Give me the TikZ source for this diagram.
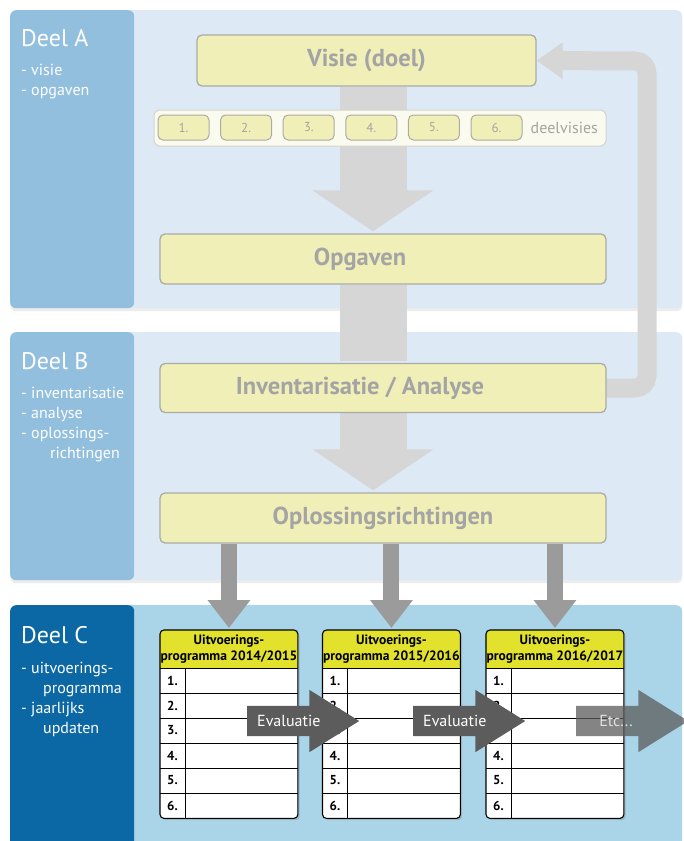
\documentclass[tikz,border=0pt]{standalone}
\usepackage{fontspec}
\setmainfont{PT Sans}
\usetikzlibrary{positioning,calc,arrows.meta,shapes.arrows,shadows}

\definecolor{vlakAB}{HTML}{DDEAF5}
\definecolor{tabAB}{HTML}{93BFDF}
\definecolor{vlakC}{HTML}{AAD4E7}
\definecolor{tabC}{HTML}{0B68A4}
\definecolor{lichtgrijs}{HTML}{D6D6D6}
\definecolor{vakgeel}{HTML}{F1EFB8}
\definecolor{vakrand}{HTML}{ABABA5}
\definecolor{vaktekst}{HTML}{A4A4A4}
\definecolor{balkgeel}{HTML}{FBFAEF}
\definecolor{balkrand}{HTML}{D4D4CC}
\definecolor{donkergrijs}{HTML}{9B9B9B}
\definecolor{evalgrijs}{HTML}{5C5C5C}
\definecolor{kopgeel}{HTML}{E2E12B}

\pgfdeclarelayer{panelen}
\pgfdeclarelayer{pijlen}
\pgfsetlayers{panelen,pijlen,main}

\tikzset{
  vlak/.style={anchor=north west, inner sep=0pt, rounded corners=6pt},
  vlakschaduw/.style={drop shadow={shadow xshift=0pt,shadow yshift=-3pt,opacity=.15}},
  deelkop/.style={text=white, inner sep=0pt, font=\fontsize{24}{28}\selectfont},
  deellijst/.style={text=white, inner sep=0pt, align=left, font=\fontsize{16}{20}\selectfont},
  vak/.style={draw=vakrand, fill=vakgeel, line width=1.3pt, rounded corners=5pt,
    text=vaktekst, font=\fontsize{24.5}{28}\selectfont\bfseries},
  dvbalk/.style={draw=balkrand, fill=balkgeel, line width=1pt, rounded corners=6pt},
  dvvak/.style={draw=vakrand, fill=vakgeel, line width=1pt, rounded corners=5pt,
    minimum width=51pt, minimum height=25pt, text=vaktekst, font=\fontsize{13}{15}\selectfont},
  dvtekst/.style={text=vaktekst, inner sep=0pt, font=\fontsize{16}{18}\selectfont},
  grootpijl/.style={draw=lichtgrijs, line width=67pt, -{Triangle[length=41pt,width=119pt]}, shorten >=2pt},
  terugpijl/.style={draw=lichtgrijs, line width=19pt, rounded corners=12pt, -{Triangle[length=26pt,width=35pt]}},
  donkerpijl/.style={draw=donkergrijs, line width=16pt, -{Triangle[length=28pt,width=41pt]}, shorten >=2pt},
  prog/.style={fill=white, rounded corners=4pt, minimum width=137.5pt, minimum height=188pt,
    inner sep=0pt, anchor=north west, drop shadow={shadow xshift=2pt,shadow yshift=-2pt,opacity=.35}},
  progrand/.style={draw=black, line width=1.1pt, rounded corners=4pt},
  progkop/.style={align=center, inner sep=0pt, font=\fontsize{13.5}{15.5}\selectfont\bfseries},
  rij/.style={draw=black, line width=0.9pt},
  rijnr/.style={inner sep=0pt, font=\fontsize{13}{15}\selectfont\bfseries},
  evalpijl/.style={single arrow, single arrow head extend=16pt, single arrow tip angle=64,
    minimum height=112pt, inner xsep=0pt, inner ysep=15pt, fill=evalgrijs, anchor=tail},
  evaltekst/.style={text=white, inner sep=0pt, font=\fontsize{16}{18}\selectfont},
}

\begin{document}
\begin{tikzpicture}[x=1pt,y=-1pt,>=Triangle]

\useasboundingbox (0,0) rectangle (684,841);

% Deel A, B en C
\begin{pgfonlayer}{panelen}
\fill[white] (0,0) rectangle (684,841);
\node[vlak, vlakschaduw, fill=vlakAB, minimum width=672pt, minimum height=298pt] (vlakA) at (10,10) {};
\node[vlak, fill=tabAB, minimum width=124pt, minimum height=298pt] (tabA) at (10,10) {};
\node[vlak, vlakschaduw, fill=vlakAB, minimum width=672pt, minimum height=248pt] (vlakB) at (10,332) {};
\node[vlak, fill=tabAB, minimum width=124pt, minimum height=248pt] (tabB) at (10,332) {};
\node[vlak, fill=vlakC, minimum width=672pt, minimum height=260pt] (vlakC) at (10,605) {};
\node[vlak, fill=tabC, minimum width=124pt, minimum height=260pt] (tabC) at (10,605) {};
\end{pgfonlayer}

\node[deelkop, anchor=base west] (kopA) at (21,46) {Deel A};
\node[deellijst, anchor=north west] (lijstA) at (21,64) {- visie\\- opgaven};
\node[deelkop, anchor=base west] (kopB) at (21,369) {Deel B};
\node[deellijst, anchor=north west] (lijstB) at (21,387) {- inventarisatie\\- analyse\\- oplossings-\\\hspace*{29pt}richtingen};
\node[deelkop, anchor=base west] (kopC) at (21,643) {Deel C};
\node[deellijst, anchor=north west] (lijstC) at (21,662) {- uitvoerings-\\\hspace*{22pt}programma\\- jaarlijks\\\hspace*{22pt}updaten};

\node[vak, minimum width=339pt, minimum height=51pt] (visie) at (366.5,60.5) {Visie (doel)};
\node[vak, minimum width=446pt, minimum height=50pt] (opgaven) at (383,259) {Opgaven\hspace*{46pt}};
\node[vak, minimum width=446pt, minimum height=49pt] (inv) at (383,388) {Inventarisatie / Analyse\hspace*{46pt}};
\node[vak, minimum width=446pt, minimum height=50pt] (oplos) at (383,518) {Oplossingsrichtingen};

% deelvisies
\node[dvbalk, minimum width=452pt, minimum height=36pt] (balk) at (380,128) {};
\foreach \n in {1,...,6}
  \node[dvvak] (dv\n) at ({183.5+62.6*(\n-1)},127.5) {\n.};
\node[dvtekst, right=8pt of dv6] (dvlabel) {deelvisies};

\coordinate (as) at (373,0);
\coordinate (terug) at (647,61);
\begin{pgfonlayer}{pijlen}
\draw[grootpijl] (visie.south -| as) -- (opgaven.north -| as);
\draw[grootpijl,-] (opgaven.south -| as) -- (inv.north -| as);
\draw[grootpijl] (inv.south -| as) -- (oplos.north -| as);
\draw[terugpijl] (inv.east) -| (terug) -- (visie.east);
\end{pgfonlayer}

% uitvoeringsprogramma's
\foreach \i/\x/\ya/\yb in {1/160/2014/2015,2/322.5/2015/2016,3/486/2016/2017}{
  \node[prog] (prog\i) at (\x,630) {};
  \begin{scope}
    \clip[rounded corners=4pt] (prog\i.north west) rectangle (prog\i.south east);
    \fill[kopgeel] (prog\i.north west) rectangle ([yshift=-38pt]prog\i.north east);
  \end{scope}
  \node[progkop] (kop\i) at ([yshift=-19pt]prog\i.north) {Uitvoerings-\\programma \ya/\yb};
  \foreach \r in {1,...,6}{
    \draw[rij] ([yshift={-38pt-25pt*(\r-1)}]prog\i.north west) -- ([yshift={-38pt-25pt*(\r-1)}]prog\i.north east);
    \node[rijnr] (nr\i\r) at ([xshift=12.5pt,yshift={-50.5pt-25pt*(\r-1)}]prog\i.north west) {\r.};
  }
  \draw[rij] ([xshift=25pt,yshift=-38pt]prog\i.north west) -- ([xshift=25pt]prog\i.south west);
  \draw[progrand] (prog\i.north west) rectangle (prog\i.south east);
  \begin{pgfonlayer}{pijlen}
  \draw[donkerpijl] (oplos.south -| prog\i.north) -- (prog\i.north);
  \end{pgfonlayer}
}

% evaluatie
\node[evalpijl] (eval1) at (247,721) {};
\node[evaltekst, anchor=west] (evaltxt1) at ([xshift=10pt]eval1.tail) {Evaluatie};
\node[evalpijl] (eval2) at (413,721) {};
\node[evaltekst, anchor=west] (evaltxt2) at ([xshift=10pt]eval2.tail) {Evaluatie};
\node[evalpijl, fill opacity=.75] (etc) at (576,721) {};
\node[evaltekst, text=white!88!black] (etctxt) at ([xshift=40pt]etc.tail) {Etc...};

\end{tikzpicture}
\end{document}
